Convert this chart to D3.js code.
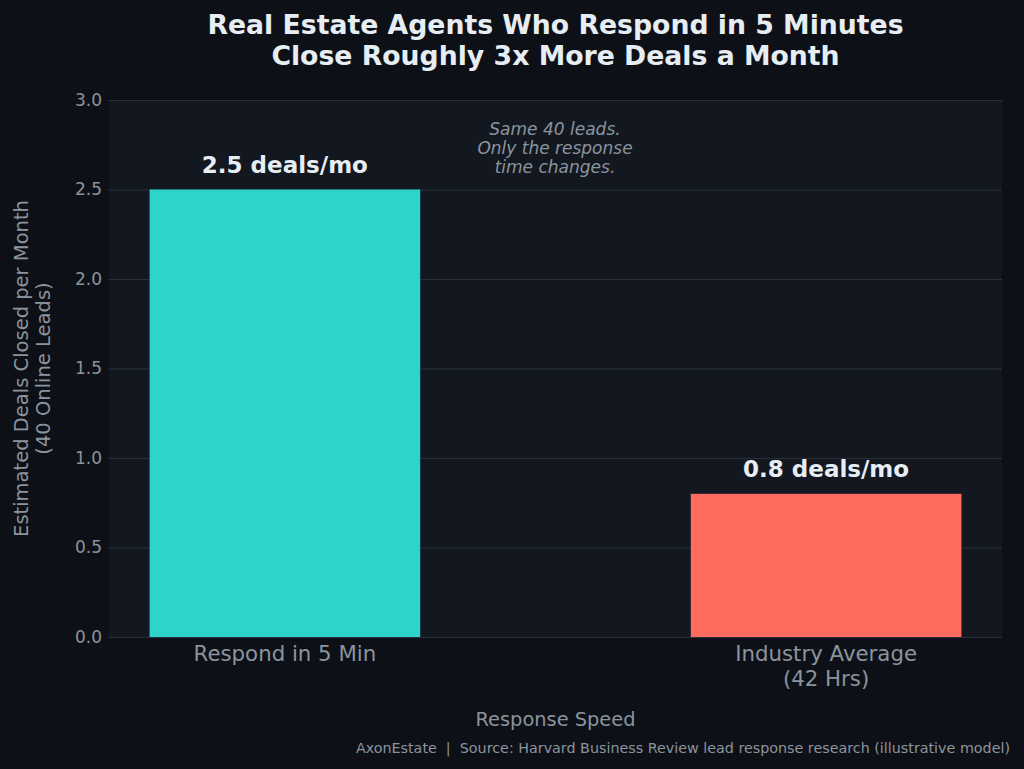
<!DOCTYPE html>
<html><head><meta charset="utf-8">
<script src="https://cdn.jsdelivr.net/npm/d3@7"></script>
<style>
html,body{margin:0;padding:0;background:#0d1117;}
svg{display:block;font-family:"DejaVu Sans",sans-serif;}
</style></head>
<body>
<svg id="chart" width="1024" height="769"></svg>
<script>
const categories = ["Respond in 5 Min", "Industry Average\n(42 Hrs)"];
const values = [2.5, 0.8];
const valueLabels = ["2.5 deals/mo", "0.8 deals/mo"];
const barColors = ["#2ed3c9", "#ff6b5e"];
const yTicks = [0, 0.5, 1.0, 1.5, 2.0, 2.5, 3.0];
const titleLines = ["Real Estate Agents Who Respond in 5 Minutes", "Close Roughly 3x More Deals a Month"];
const yLabelLines = ["Estimated Deals Closed per Month", "(40 Online Leads)"];
const xLabel = "Response Speed";
const noteLines = ["Same 40 leads.", "Only the response", "time changes."];
const footer = "AxonEstate  |  Source: Harvard Business Review lead response research (illustrative model)";

const svg = d3.select("#chart");
const W = 1024, H = 769;
const m = {left:109, right:1002, top:100, bottom:637};

svg.append("rect").attr("width",W).attr("height",H).attr("fill","#0d1117");
svg.append("rect").attr("x",m.left).attr("y",m.top).attr("width",m.right-m.left).attr("height",m.bottom-m.top).attr("fill","#131820");

const x = d3.scaleLinear().domain([-0.325, 1.325]).range([m.left, m.right]);
const y = d3.scaleLinear().domain([0, 3]).range([m.bottom, m.top]);
const bw = 0.5;

// grid
const yAxis = d3.axisLeft(y).tickValues(yTicks).tickFormat(d3.format(".1f")).tickSize(-(m.right-m.left)).tickPadding(7);
const gy = svg.append("g").attr("transform",`translate(${m.left},0)`).call(yAxis);
gy.select(".domain").remove();
gy.selectAll(".tick line").attr("stroke","#2a3039").attr("stroke-width",1);
gy.selectAll(".tick text").attr("fill","#8b949e").attr("font-size","17px").attr("font-family","DejaVu Sans");

// bars
svg.append("g").selectAll("rect").data(values).join("rect")
  .attr("x",(d,i)=>x(i-bw/2)).attr("width",(d,i)=>x(i+bw/2)-x(i-bw/2))
  .attr("y",d=>y(d)).attr("height",d=>y(0)-y(d))
  .attr("fill",(d,i)=>barColors[i]);

// value labels
svg.append("g").selectAll("text").data(values).join("text")
  .attr("x",(d,i)=>x(i)).attr("y",d=>y(d)-17)
  .attr("text-anchor","middle").attr("fill","#e6edf3")
  .attr("font-size","23px").attr("font-weight","bold")
  .text((d,i)=>valueLabels[i]);

// x category labels
const xt = svg.append("g");
categories.forEach((c,i)=>{
  const t = xt.append("text").attr("x",x(i)).attr("y",m.bottom+24).attr("text-anchor","middle")
    .attr("fill","#8b949e").attr("font-size","21.3px");
  c.split("\n").forEach((ln,j)=>t.append("tspan").attr("x",x(i)).attr("dy",j?25:0).text(ln));
});

// title
const tt = svg.append("text").attr("x",(m.left+m.right)/2).attr("y",34).attr("text-anchor","middle")
  .attr("fill","#e6edf3").attr("font-size","26.7px").attr("font-weight","bold");
titleLines.forEach((ln,j)=>tt.append("tspan").attr("x",(m.left+m.right)/2).attr("dy",j?31:0).text(ln));

// y label
const yl = svg.append("text").attr("transform",`translate(28,${(m.top+m.bottom)/2}) rotate(-90)`)
  .attr("text-anchor","middle").attr("fill","#8b949e").attr("font-size","19.5px");
yLabelLines.forEach((ln,j)=>yl.append("tspan").attr("x",0).attr("dy",j?22:0).text(ln));

// x label
svg.append("text").attr("x",(m.left+m.right)/2).attr("y",726).attr("text-anchor","middle")
  .attr("fill","#8b949e").attr("font-size","19.4px").text(xLabel);

// note
const nt = svg.append("text").attr("x",555).attr("y",135).attr("text-anchor","middle")
  .attr("fill","#8b949e").attr("font-size","17px").attr("font-style","italic");
noteLines.forEach((ln,j)=>nt.append("tspan").attr("x",555).attr("dy",j?19:0).text(ln));

// footer
svg.append("text").attr("x",1010).attr("y",753).attr("text-anchor","end")
  .style("white-space","pre")
  .attr("fill","#8b949e").attr("font-size","14.3px").text(footer);
</script>
</body></html>
